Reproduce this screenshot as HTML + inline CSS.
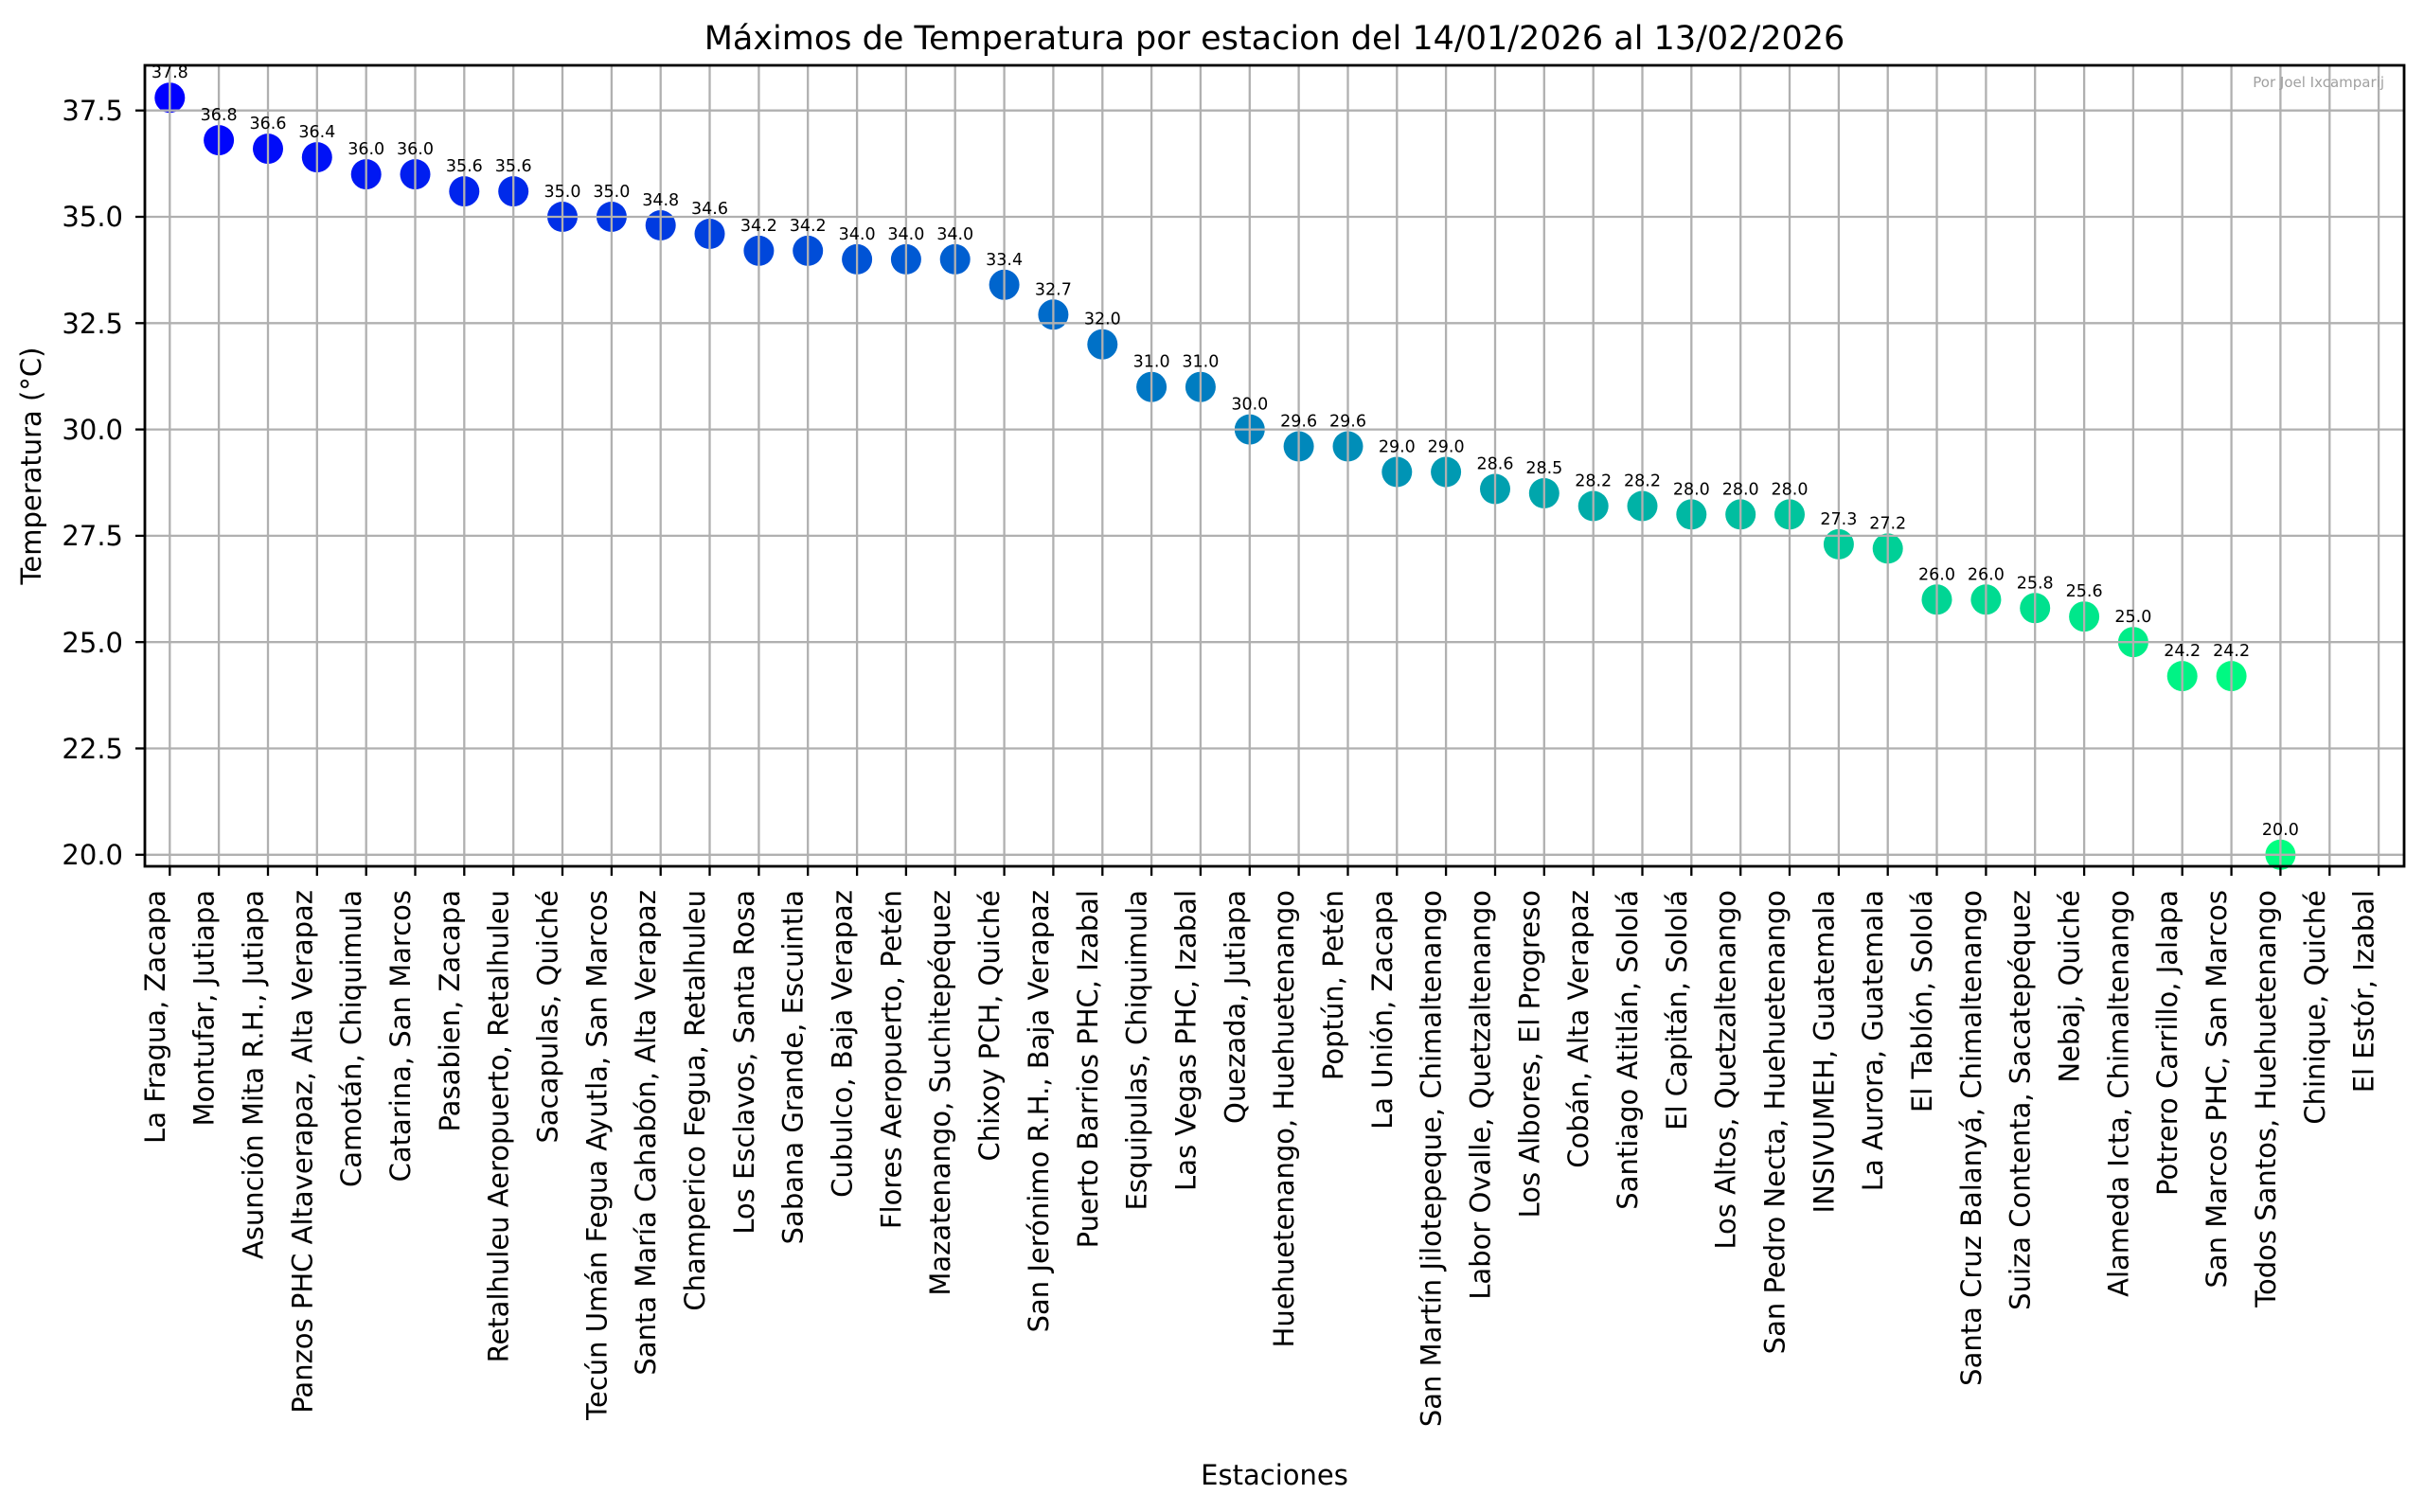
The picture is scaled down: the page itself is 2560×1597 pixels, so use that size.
<!DOCTYPE html>
<html><head><meta charset="utf-8"><style>body{margin:0;background:#fff}svg{display:block}text{font-family:"DejaVu Sans","Liberation Sans",sans-serif}</style></head>
<body>
<svg width="2560" height="1597" viewBox="0 0 2560 1597" xmlns="http://www.w3.org/2000/svg">
<rect width="2560" height="1597" fill="#fff"/>
<text x="1346" y="52" font-size="35" text-anchor="middle">Máximos de Temperatura por estacion del 14/01/2026 al 13/02/2026</text>
<g>
<circle cx="179.3" cy="103.2" r="16" fill="rgb(0,0,255)"/>
<circle cx="231.1" cy="148.1" r="16" fill="rgb(0,6,252)"/>
<circle cx="283.0" cy="157.1" r="16" fill="rgb(0,12,249)"/>
<circle cx="334.8" cy="166.1" r="16" fill="rgb(0,18,246)"/>
<circle cx="386.7" cy="184.1" r="16" fill="rgb(0,24,243)"/>
<circle cx="438.5" cy="184.1" r="16" fill="rgb(0,30,240)"/>
<circle cx="490.3" cy="202.1" r="16" fill="rgb(0,36,237)"/>
<circle cx="542.2" cy="202.1" r="16" fill="rgb(0,42,234)"/>
<circle cx="594.0" cy="229.0" r="16" fill="rgb(0,47,231)"/>
<circle cx="645.9" cy="229.0" r="16" fill="rgb(0,53,228)"/>
<circle cx="697.7" cy="238.0" r="16" fill="rgb(0,59,225)"/>
<circle cx="749.5" cy="247.0" r="16" fill="rgb(0,65,222)"/>
<circle cx="801.4" cy="264.9" r="16" fill="rgb(0,71,219)"/>
<circle cx="853.2" cy="264.9" r="16" fill="rgb(0,77,216)"/>
<circle cx="905.1" cy="273.9" r="16" fill="rgb(0,83,213)"/>
<circle cx="956.9" cy="273.9" r="16" fill="rgb(0,89,211)"/>
<circle cx="1008.7" cy="273.9" r="16" fill="rgb(0,95,208)"/>
<circle cx="1060.6" cy="300.8" r="16" fill="rgb(0,101,205)"/>
<circle cx="1112.4" cy="332.3" r="16" fill="rgb(0,107,202)"/>
<circle cx="1164.3" cy="363.7" r="16" fill="rgb(0,113,199)"/>
<circle cx="1216.1" cy="408.7" r="16" fill="rgb(0,119,196)"/>
<circle cx="1267.9" cy="408.7" r="16" fill="rgb(0,125,193)"/>
<circle cx="1319.8" cy="453.6" r="16" fill="rgb(0,130,190)"/>
<circle cx="1371.6" cy="471.5" r="16" fill="rgb(0,136,187)"/>
<circle cx="1423.5" cy="471.5" r="16" fill="rgb(0,142,184)"/>
<circle cx="1475.3" cy="498.5" r="16" fill="rgb(0,148,181)"/>
<circle cx="1527.1" cy="498.5" r="16" fill="rgb(0,154,178)"/>
<circle cx="1579.0" cy="516.5" r="16" fill="rgb(0,160,175)"/>
<circle cx="1630.8" cy="521.0" r="16" fill="rgb(0,166,172)"/>
<circle cx="1682.7" cy="534.5" r="16" fill="rgb(0,172,169)"/>
<circle cx="1734.5" cy="534.5" r="16" fill="rgb(0,178,166)"/>
<circle cx="1786.3" cy="543.4" r="16" fill="rgb(0,184,163)"/>
<circle cx="1838.2" cy="543.4" r="16" fill="rgb(0,190,160)"/>
<circle cx="1890.0" cy="543.4" r="16" fill="rgb(0,196,157)"/>
<circle cx="1941.9" cy="574.9" r="16" fill="rgb(0,202,154)"/>
<circle cx="1993.7" cy="579.4" r="16" fill="rgb(0,208,151)"/>
<circle cx="2045.5" cy="633.3" r="16" fill="rgb(0,213,148)"/>
<circle cx="2097.4" cy="633.3" r="16" fill="rgb(0,219,145)"/>
<circle cx="2149.2" cy="642.3" r="16" fill="rgb(0,225,142)"/>
<circle cx="2201.1" cy="651.2" r="16" fill="rgb(0,231,139)"/>
<circle cx="2252.9" cy="678.2" r="16" fill="rgb(0,237,136)"/>
<circle cx="2304.7" cy="714.1" r="16" fill="rgb(0,243,133)"/>
<circle cx="2356.6" cy="714.1" r="16" fill="rgb(0,249,130)"/>
<circle cx="2408.4" cy="902.8" r="16" fill="rgb(0,255,128)"/>
</g>
<g stroke="#b0b0b0" stroke-width="2.3">
<line x1="179.3" y1="69" x2="179.3" y2="915"/><line x1="231.1" y1="69" x2="231.1" y2="915"/><line x1="283.0" y1="69" x2="283.0" y2="915"/><line x1="334.8" y1="69" x2="334.8" y2="915"/><line x1="386.7" y1="69" x2="386.7" y2="915"/><line x1="438.5" y1="69" x2="438.5" y2="915"/><line x1="490.3" y1="69" x2="490.3" y2="915"/><line x1="542.2" y1="69" x2="542.2" y2="915"/><line x1="594.0" y1="69" x2="594.0" y2="915"/><line x1="645.9" y1="69" x2="645.9" y2="915"/><line x1="697.7" y1="69" x2="697.7" y2="915"/><line x1="749.5" y1="69" x2="749.5" y2="915"/><line x1="801.4" y1="69" x2="801.4" y2="915"/><line x1="853.2" y1="69" x2="853.2" y2="915"/><line x1="905.1" y1="69" x2="905.1" y2="915"/><line x1="956.9" y1="69" x2="956.9" y2="915"/><line x1="1008.7" y1="69" x2="1008.7" y2="915"/><line x1="1060.6" y1="69" x2="1060.6" y2="915"/><line x1="1112.4" y1="69" x2="1112.4" y2="915"/><line x1="1164.3" y1="69" x2="1164.3" y2="915"/><line x1="1216.1" y1="69" x2="1216.1" y2="915"/><line x1="1267.9" y1="69" x2="1267.9" y2="915"/><line x1="1319.8" y1="69" x2="1319.8" y2="915"/><line x1="1371.6" y1="69" x2="1371.6" y2="915"/><line x1="1423.5" y1="69" x2="1423.5" y2="915"/><line x1="1475.3" y1="69" x2="1475.3" y2="915"/><line x1="1527.1" y1="69" x2="1527.1" y2="915"/><line x1="1579.0" y1="69" x2="1579.0" y2="915"/><line x1="1630.8" y1="69" x2="1630.8" y2="915"/><line x1="1682.7" y1="69" x2="1682.7" y2="915"/><line x1="1734.5" y1="69" x2="1734.5" y2="915"/><line x1="1786.3" y1="69" x2="1786.3" y2="915"/><line x1="1838.2" y1="69" x2="1838.2" y2="915"/><line x1="1890.0" y1="69" x2="1890.0" y2="915"/><line x1="1941.9" y1="69" x2="1941.9" y2="915"/><line x1="1993.7" y1="69" x2="1993.7" y2="915"/><line x1="2045.5" y1="69" x2="2045.5" y2="915"/><line x1="2097.4" y1="69" x2="2097.4" y2="915"/><line x1="2149.2" y1="69" x2="2149.2" y2="915"/><line x1="2201.1" y1="69" x2="2201.1" y2="915"/><line x1="2252.9" y1="69" x2="2252.9" y2="915"/><line x1="2304.7" y1="69" x2="2304.7" y2="915"/><line x1="2356.6" y1="69" x2="2356.6" y2="915"/><line x1="2408.4" y1="69" x2="2408.4" y2="915"/><line x1="2460.3" y1="69" x2="2460.3" y2="915"/><line x1="2512.1" y1="69" x2="2512.1" y2="915"/>
<line x1="153" y1="902.8" x2="2539" y2="902.8"/><line x1="153" y1="790.5" x2="2539" y2="790.5"/><line x1="153" y1="678.2" x2="2539" y2="678.2"/><line x1="153" y1="565.9" x2="2539" y2="565.9"/><line x1="153" y1="453.6" x2="2539" y2="453.6"/><line x1="153" y1="341.3" x2="2539" y2="341.3"/><line x1="153" y1="229.0" x2="2539" y2="229.0"/><line x1="153" y1="116.7" x2="2539" y2="116.7"/>
</g>
<g font-size="17.5" text-anchor="middle">
<text x="179.3" y="82.2">37.8</text><text x="231.1" y="127.1">36.8</text><text x="283.0" y="136.1">36.6</text><text x="334.8" y="145.1">36.4</text><text x="386.7" y="163.1">36.0</text><text x="438.5" y="163.1">36.0</text><text x="490.3" y="181.1">35.6</text><text x="542.2" y="181.1">35.6</text><text x="594.0" y="208.0">35.0</text><text x="645.9" y="208.0">35.0</text><text x="697.7" y="217.0">34.8</text><text x="749.5" y="226.0">34.6</text><text x="801.4" y="243.9">34.2</text><text x="853.2" y="243.9">34.2</text><text x="905.1" y="252.9">34.0</text><text x="956.9" y="252.9">34.0</text><text x="1008.7" y="252.9">34.0</text><text x="1060.6" y="279.8">33.4</text><text x="1112.4" y="311.3">32.7</text><text x="1164.3" y="342.7">32.0</text><text x="1216.1" y="387.7">31.0</text><text x="1267.9" y="387.7">31.0</text><text x="1319.8" y="432.6">30.0</text><text x="1371.6" y="450.5">29.6</text><text x="1423.5" y="450.5">29.6</text><text x="1475.3" y="477.5">29.0</text><text x="1527.1" y="477.5">29.0</text><text x="1579.0" y="495.5">28.6</text><text x="1630.8" y="500.0">28.5</text><text x="1682.7" y="513.5">28.2</text><text x="1734.5" y="513.5">28.2</text><text x="1786.3" y="522.4">28.0</text><text x="1838.2" y="522.4">28.0</text><text x="1890.0" y="522.4">28.0</text><text x="1941.9" y="553.9">27.3</text><text x="1993.7" y="558.4">27.2</text><text x="2045.5" y="612.3">26.0</text><text x="2097.4" y="612.3">26.0</text><text x="2149.2" y="621.3">25.8</text><text x="2201.1" y="630.2">25.6</text><text x="2252.9" y="657.2">25.0</text><text x="2304.7" y="693.1">24.2</text><text x="2356.6" y="693.1">24.2</text><text x="2408.4" y="881.8">20.0</text>
</g>
<text x="2518" y="92" font-size="15" fill="#a0a0a0" text-anchor="end">Por Joel Ixcamparij</text>
<rect x="153" y="69" width="2386" height="846" fill="none" stroke="#000" stroke-width="2.8"/>
<g stroke="#000" stroke-width="2.3">
<line x1="143" y1="902.8" x2="153" y2="902.8"/><line x1="143" y1="790.5" x2="153" y2="790.5"/><line x1="143" y1="678.2" x2="153" y2="678.2"/><line x1="143" y1="565.9" x2="153" y2="565.9"/><line x1="143" y1="453.6" x2="153" y2="453.6"/><line x1="143" y1="341.3" x2="153" y2="341.3"/><line x1="143" y1="229.0" x2="153" y2="229.0"/><line x1="143" y1="116.7" x2="153" y2="116.7"/>
<path d="M179.3 915v10M231.1 915v10M283.0 915v10M334.8 915v10M386.7 915v10M438.5 915v10M490.3 915v10M542.2 915v10M594.0 915v10M645.9 915v10M697.7 915v10M749.5 915v10M801.4 915v10M853.2 915v10M905.1 915v10M956.9 915v10M1008.7 915v10M1060.6 915v10M1112.4 915v10M1164.3 915v10M1216.1 915v10M1267.9 915v10M1319.8 915v10M1371.6 915v10M1423.5 915v10M1475.3 915v10M1527.1 915v10M1579.0 915v10M1630.8 915v10M1682.7 915v10M1734.5 915v10M1786.3 915v10M1838.2 915v10M1890.0 915v10M1941.9 915v10M1993.7 915v10M2045.5 915v10M2097.4 915v10M2149.2 915v10M2201.1 915v10M2252.9 915v10M2304.7 915v10M2356.6 915v10M2408.4 915v10M2460.3 915v10M2512.1 915v10"/>
</g>
<g font-size="29" text-anchor="end">
<text x="130" y="913">20.0</text><text x="130" y="801">22.5</text><text x="130" y="689">25.0</text><text x="130" y="576">27.5</text><text x="130" y="464">30.0</text><text x="130" y="352">32.5</text><text x="130" y="239">35.0</text><text x="130" y="127">37.5</text>
</g>
<g font-size="29" text-anchor="end">
<text transform="translate(173.8,940) rotate(-90)">La Fragua, Zacapa</text>
<text transform="translate(225.6,940) rotate(-90)">Montufar, Jutiapa</text>
<text transform="translate(277.5,940) rotate(-90)">Asunción Mita R.H., Jutiapa</text>
<text transform="translate(329.3,940) rotate(-90)">Panzos PHC Altaverapaz, Alta Verapaz</text>
<text transform="translate(381.2,940) rotate(-90)">Camotán, Chiquimula</text>
<text transform="translate(433.0,940) rotate(-90)">Catarina, San Marcos</text>
<text transform="translate(484.8,940) rotate(-90)">Pasabien, Zacapa</text>
<text transform="translate(536.7,940) rotate(-90)">Retalhuleu Aeropuerto, Retalhuleu</text>
<text transform="translate(588.5,940) rotate(-90)">Sacapulas, Quiché</text>
<text transform="translate(640.4,940) rotate(-90)">Tecún Umán Fegua Ayutla, San Marcos</text>
<text transform="translate(692.2,940) rotate(-90)">Santa María Cahabón, Alta Verapaz</text>
<text transform="translate(744.0,940) rotate(-90)">Champerico Fegua, Retalhuleu</text>
<text transform="translate(795.9,940) rotate(-90)">Los Esclavos, Santa Rosa</text>
<text transform="translate(847.7,940) rotate(-90)">Sabana Grande, Escuintla</text>
<text transform="translate(899.6,940) rotate(-90)">Cubulco, Baja Verapaz</text>
<text transform="translate(951.4,940) rotate(-90)">Flores Aeropuerto, Petén</text>
<text transform="translate(1003.2,940) rotate(-90)">Mazatenango, Suchitepéquez</text>
<text transform="translate(1055.1,940) rotate(-90)">Chixoy PCH, Quiché</text>
<text transform="translate(1106.9,940) rotate(-90)">San Jerónimo R.H., Baja Verapaz</text>
<text transform="translate(1158.8,940) rotate(-90)">Puerto Barrios PHC, Izabal</text>
<text transform="translate(1210.6,940) rotate(-90)">Esquipulas, Chiquimula</text>
<text transform="translate(1262.4,940) rotate(-90)">Las Vegas PHC, Izabal</text>
<text transform="translate(1314.3,940) rotate(-90)">Quezada, Jutiapa</text>
<text transform="translate(1366.1,940) rotate(-90)">Huehuetenango, Huehuetenango</text>
<text transform="translate(1418.0,940) rotate(-90)">Poptún, Petén</text>
<text transform="translate(1469.8,940) rotate(-90)">La Unión, Zacapa</text>
<text transform="translate(1521.6,940) rotate(-90)">San Martín Jilotepeque, Chimaltenango</text>
<text transform="translate(1573.5,940) rotate(-90)">Labor Ovalle, Quetzaltenango</text>
<text transform="translate(1625.3,940) rotate(-90)">Los Albores, El Progreso</text>
<text transform="translate(1677.2,940) rotate(-90)">Cobán, Alta Verapaz</text>
<text transform="translate(1729.0,940) rotate(-90)">Santiago Atitlán, Sololá</text>
<text transform="translate(1780.8,940) rotate(-90)">El Capitán, Sololá</text>
<text transform="translate(1832.7,940) rotate(-90)">Los Altos, Quetzaltenango</text>
<text transform="translate(1884.5,940) rotate(-90)">San Pedro Necta, Huehuetenango</text>
<text transform="translate(1936.4,940) rotate(-90)">INSIVUMEH, Guatemala</text>
<text transform="translate(1988.2,940) rotate(-90)">La Aurora, Guatemala</text>
<text transform="translate(2040.0,940) rotate(-90)">El Tablón, Sololá</text>
<text transform="translate(2091.9,940) rotate(-90)">Santa Cruz Balanyá, Chimaltenango</text>
<text transform="translate(2143.7,940) rotate(-90)">Suiza Contenta, Sacatepéquez</text>
<text transform="translate(2195.6,940) rotate(-90)">Nebaj, Quiché</text>
<text transform="translate(2247.4,940) rotate(-90)">Alameda Icta, Chimaltenango</text>
<text transform="translate(2299.2,940) rotate(-90)">Potrero Carrillo, Jalapa</text>
<text transform="translate(2351.1,940) rotate(-90)">San Marcos PHC, San Marcos</text>
<text transform="translate(2402.9,940) rotate(-90)">Todos Santos, Huehuetenango</text>
<text transform="translate(2454.8,940) rotate(-90)">Chinique, Quiché</text>
<text transform="translate(2506.6,940) rotate(-90)">El Estór, Izabal</text>
</g>
<text x="1346" y="1568" font-size="29" text-anchor="middle">Estaciones</text>
<text transform="translate(43,492) rotate(-90)" font-size="29" text-anchor="middle">Temperatura (°C)</text>
</svg>
</body></html>
